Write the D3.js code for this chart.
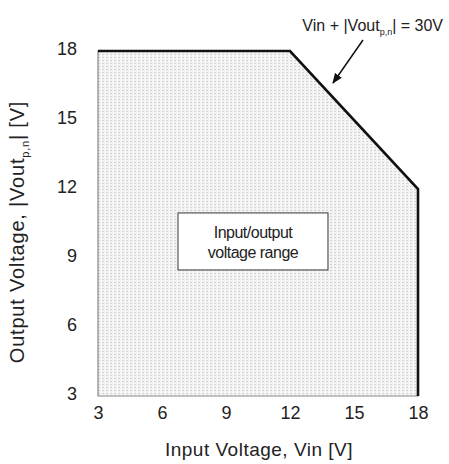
<!DOCTYPE html>
<html>
<head>
<meta charset="utf-8">
<script src="https://cdn.jsdelivr.net/npm/d3@7"></script>
<style>
  body { margin: 0; background: #fff; }
  text { font-family: "Liberation Sans", Arial, sans-serif; fill: #222; }
</style>
</head>
<body>
<script>
// operating region corners (Vin, |Vout|)
let regionVin  = [3, 3, 12, 18, 18];
let regionVout = [3, 18, 18, 12, 3];
// limit line Vin + |Vout| = 30V, plus the 18V caps
let limitVin  = [3, 12, 18, 18];
let limitVout = [18, 18, 12, 3];
let tickVals = [3, 6, 9, 12, 15, 18];

let margin = {top: 51, right: 31, bottom: 68, left: 98},
    width = 449 - margin.left - margin.right,
    height = 464 - margin.top - margin.bottom;

let svg = d3.select("body").append("svg")
    .attr("width", 449)
    .attr("height", 464);

let defs = svg.append("defs");
let pat = defs.append("pattern")
    .attr("id", "dots")
    .attr("patternUnits", "userSpaceOnUse")
    .attr("width", 4).attr("height", 3);
pat.append("rect").attr("width", 4).attr("height", 3).attr("fill", "#f1f1f1");
pat.append("rect").attr("x", 0).attr("y", 0).attr("width", 2).attr("height", 1).attr("fill", "#d2d2d2");
pat.append("rect").attr("x", 3).attr("y", 0).attr("width", 1).attr("height", 3).attr("fill", "#fafafa");

defs.append("marker")
    .attr("id", "arrow")
    .attr("viewBox", "0 0 10 10")
    .attr("refX", 9).attr("refY", 5)
    .attr("markerWidth", 7).attr("markerHeight", 7)
    .attr("orient", "auto")
  .append("path")
    .attr("d", "M0,1 L10,5 L0,9 z")
    .attr("fill", "#111");

let g = svg.append("g")
    .attr("transform", `translate(${margin.left}, ${margin.top})`);

let x = d3.scaleLinear().domain([3, 18]).range([0, width]);
let y = d3.scaleLinear().domain([3, 18]).range([height, 0]);

let region = regionVin.map((v, i) => [v, regionVout[i]]);
let limit = limitVin.map((v, i) => [v, limitVout[i]]);

let line = d3.line().x(d => x(d[0])).y(d => y(d[1]));

// shaded region
g.append("path")
    .attr("d", line(region) + "Z")
    .attr("fill", "url(#dots)")
    .attr("stroke", "#888")
    .attr("stroke-width", 1.2);

// limit boundary
g.append("path")
    .attr("d", line(limit))
    .attr("fill", "none")
    .attr("stroke", "#111")
    .attr("stroke-width", 2.6);

// axes (labels only)
let xAxis = g.append("g")
    .attr("transform", `translate(0, ${height})`)
    .call(d3.axisBottom(x).tickValues(tickVals).tickSize(0).tickPadding(23));
let yAxis = g.append("g")
    .call(d3.axisLeft(y).tickValues(tickVals).tickSize(0).tickPadding(21));
[xAxis, yAxis].forEach(a => {
    a.select(".domain").remove();
    a.selectAll("text")
        .style("font-family", "'Liberation Sans', Arial, sans-serif")
        .style("font-size", "18px")
        .attr("fill", "#222");
});
xAxis.selectAll("text").attr("dy", "0");
yAxis.selectAll("text").attr("dy", "0.2em");

// axis titles
svg.append("text")
    .attr("x", 259)
    .attr("y", 456)
    .attr("text-anchor", "middle")
    .style("font-size", "19px")
    .style("letter-spacing", "0.5px")
    .text("Input Voltage, Vin [V]");

let yt = svg.append("text")
    .attr("transform", `translate(24, 232) rotate(-90)`)
    .attr("text-anchor", "middle")
    .style("font-size", "20px")
    .style("letter-spacing", "0.8px");
yt.append("tspan").text("Output Voltage, |Vout");
yt.append("tspan").attr("dy", 5).style("font-size", "11px").text("p,n");
yt.append("tspan").attr("dy", -5).text("| [V]");

// label box
let bx0 = x(6.75), bx1 = x(13.78), by0 = y(10.96), by1 = y(8.48);
g.append("rect")
    .attr("x", bx0).attr("y", by0)
    .attr("width", bx1 - bx0).attr("height", by1 - by0)
    .attr("fill", "#fff")
    .attr("stroke", "#555")
    .attr("stroke-width", 1.2);
g.append("text")
    .attr("x", (bx0 + bx1) / 2).attr("y", by0 + 25)
    .attr("text-anchor", "middle")
    .style("font-size", "16px")
    .style("letter-spacing", "-0.5px")
    .text("Input/output");
g.append("text")
    .attr("x", (bx0 + bx1) / 2).attr("y", by0 + 45)
    .attr("text-anchor", "middle")
    .style("font-size", "16px")
    .style("letter-spacing", "-0.5px")
    .text("voltage range");

// annotation
let ann = svg.append("text")
    .attr("x", 443).attr("y", 31)
    .attr("text-anchor", "end")
    .style("font-size", "16px");
ann.append("tspan").text("Vin + |Vout");
ann.append("tspan").attr("dy", 4).style("font-size", "9px").text("p,n");
ann.append("tspan").attr("dy", -4).text("| = 30V");

svg.append("line")
    .attr("x1", 363).attr("y1", 40)
    .attr("x2", 333).attr("y2", 83)
    .attr("stroke", "#111")
    .attr("stroke-width", 1.5)
    .attr("marker-end", "url(#arrow)");
</script>
</body>
</html>
